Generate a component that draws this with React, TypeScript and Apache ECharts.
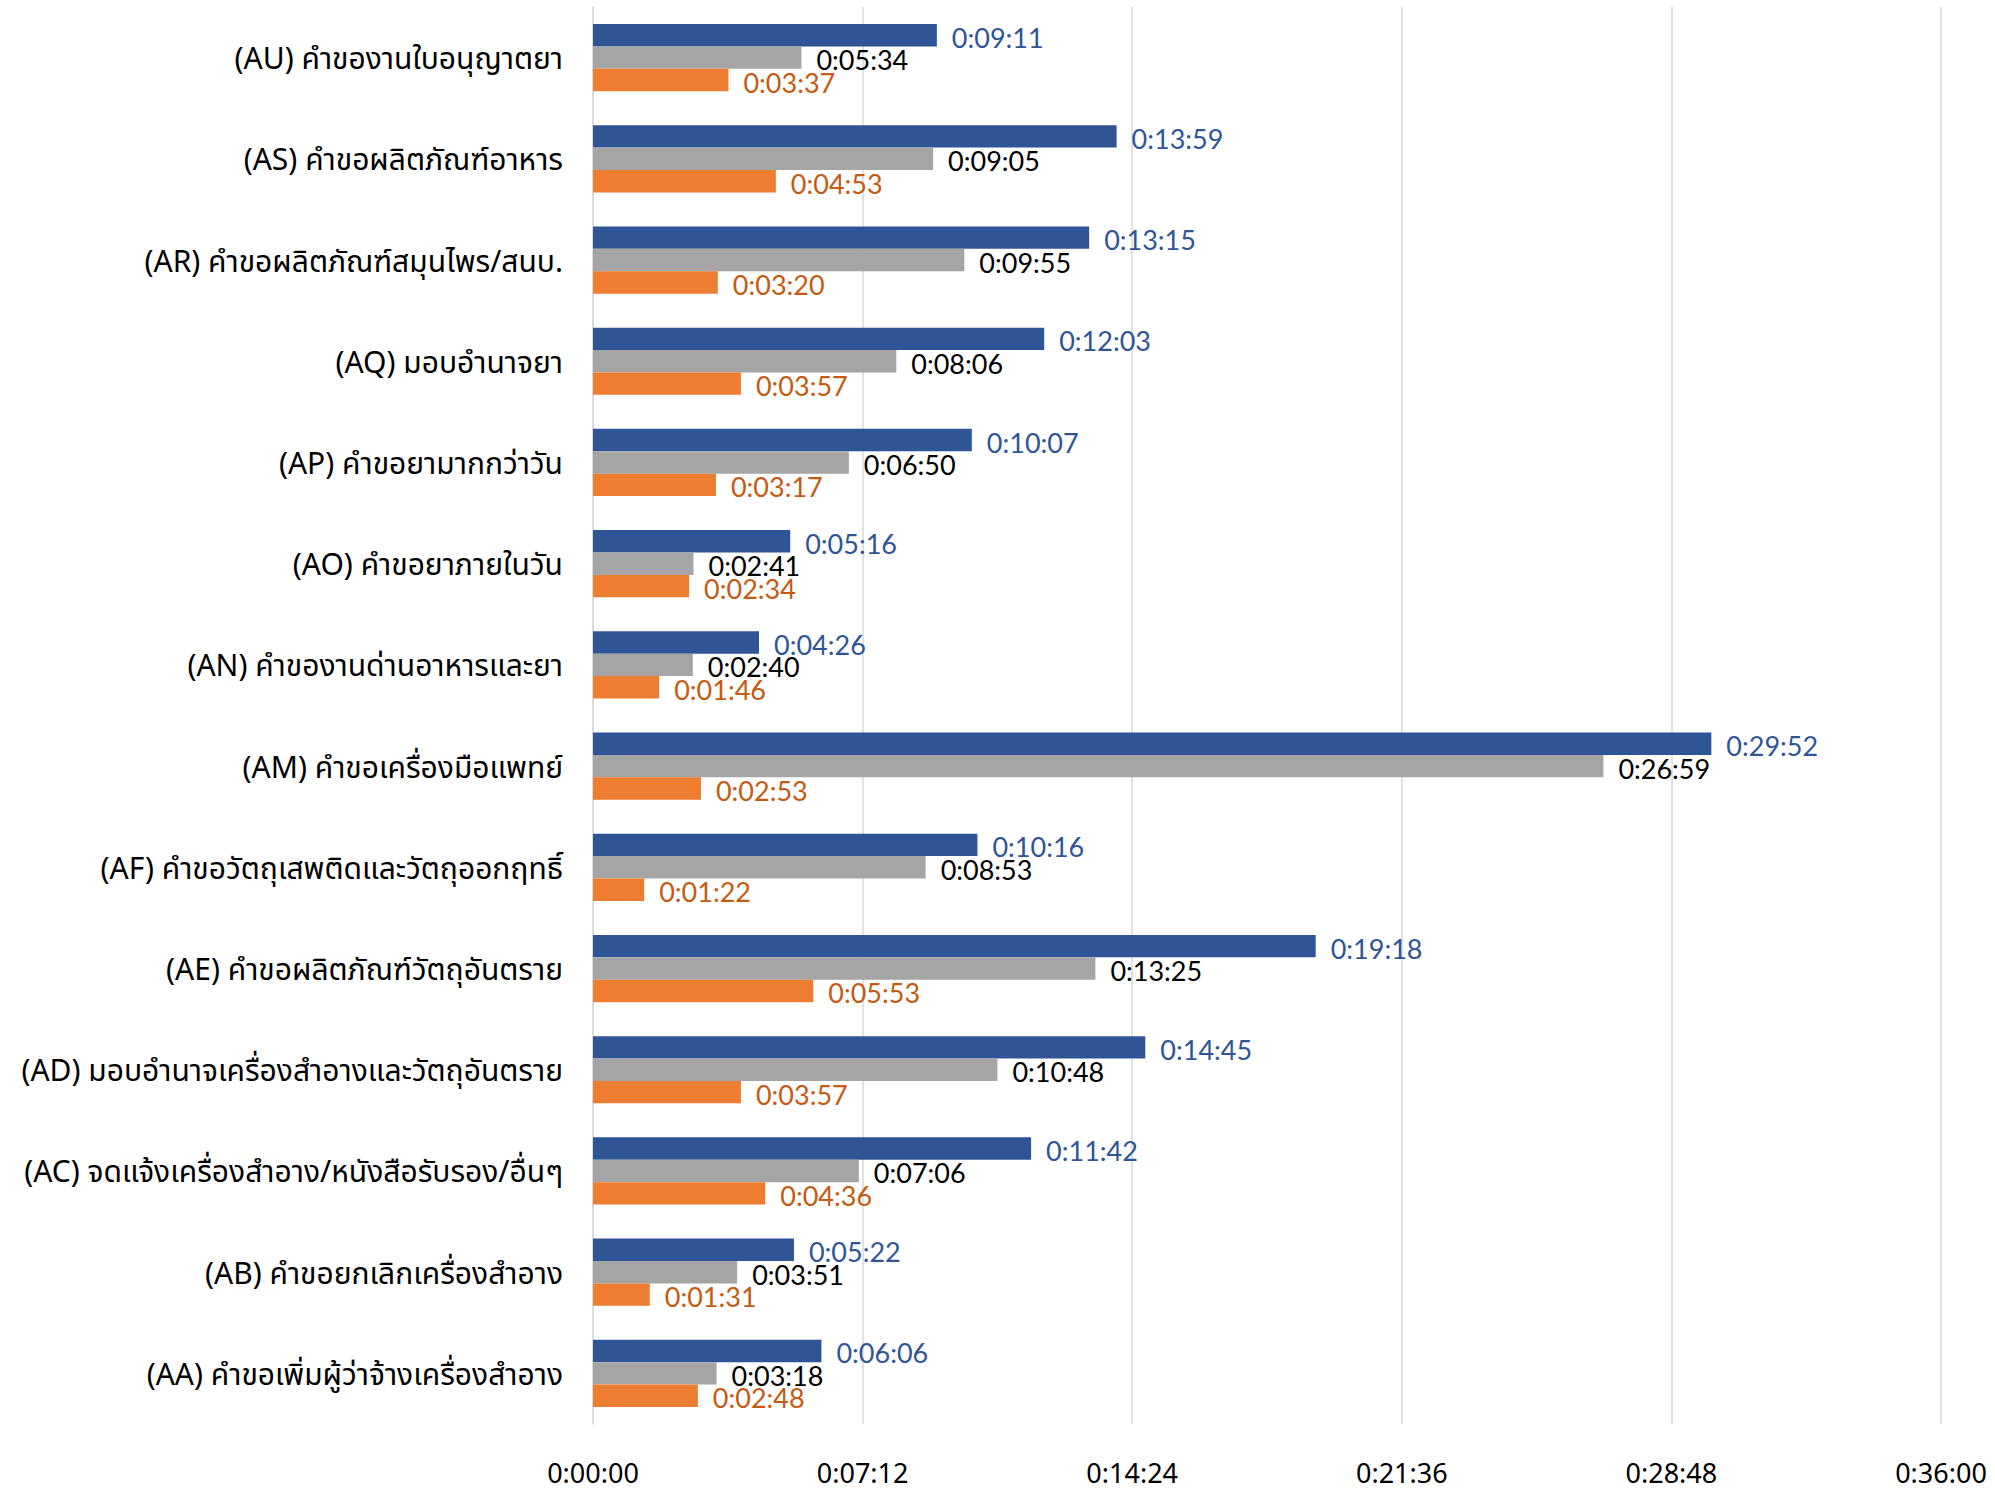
import React, { useEffect, useRef } from "react";
import * as echarts from "echarts";

const categories = [
  "(AU) คำของานใบอนุญาตยา",
  "(AS) คำขอผลิตภัณฑ์อาหาร",
  "(AR) คำขอผลิตภัณฑ์สมุนไพร/สนบ.",
  "(AQ) มอบอำนาจยา",
  "(AP) คำขอยามากกว่าวัน",
  "(AO) คำขอยาภายในวัน",
  "(AN) คำของานด่านอาหารและยา",
  "(AM) คำขอเครื่องมือแพทย์",
  "(AF) คำขอวัตถุเสพติดและวัตถุออกฤทธิ์",
  "(AE) คำขอผลิตภัณฑ์วัตถุอันตราย",
  "(AD) มอบอำนาจเครื่องสำอางและวัตถุอันตราย",
  "(AC) จดแจ้งเครื่องสำอาง/หนังสือรับรอง/อื่นๆ",
  "(AB) คำขอยกเลิกเครื่องสำอาง",
  "(AA) คำขอเพิ่มผู้ว่าจ้างเครื่องสำอาง",
];

const maxTimes = [
  "0:09:11", "0:13:59", "0:13:15", "0:12:03", "0:10:07", "0:05:16", "0:04:26",
  "0:29:52", "0:10:16", "0:19:18", "0:14:45", "0:11:42", "0:05:22", "0:06:06",
];
const avgTimes = [
  "0:05:34", "0:09:05", "0:09:55", "0:08:06", "0:06:50", "0:02:41", "0:02:40",
  "0:26:59", "0:08:53", "0:13:25", "0:10:48", "0:07:06", "0:03:51", "0:03:18",
];
const minTimes = [
  "0:03:37", "0:04:53", "0:03:20", "0:03:57", "0:03:17", "0:02:34", "0:01:46",
  "0:02:53", "0:01:22", "0:05:53", "0:03:57", "0:04:36", "0:01:31", "0:02:48",
];

const axisMin = 0;
const axisMax = 2160;
const axisStep = 432;

const toSec = (s: string) => {
  const [h, m, sec] = s.split(":").map(Number);
  return h * 3600 + m * 60 + sec;
};
const fmt = (v: number) => {
  const h = Math.floor(v / 3600);
  const m = Math.floor((v % 3600) / 60);
  const s = Math.round(v % 60);
  return `${h}:${String(m).padStart(2, "0")}:${String(s).padStart(2, "0")}`;
};

const FONT = "'Noto Sans', 'Noto Sans Thai', Tahoma, sans-serif";
const VFONT = "Lato, 'Noto Sans', sans-serif";

export default function App() {
  const ref = useRef<HTMLDivElement>(null);
  useEffect(() => {
    if (!ref.current) return;
    const chart = echarts.init(ref.current, undefined, { renderer: "svg" });
    const mk = (name: string, data: string[], color: string, labelColor: string) => ({
      name,
      type: "bar",
      data: data.map(toSec),
      barGap: "0%",
      barCategoryGap: "33.6%",
      itemStyle: { color },
      label: {
        show: true,
        position: "right",
        distance: 15,
        offset: [0, 2],
        color: labelColor,
        fontFamily: VFONT,
        fontSize: 27,
        formatter: (p: any) => fmt(p.value),
      },
    });
    chart.setOption({
      animation: false,
      backgroundColor: "#ffffff",
      grid: { left: 593, right: 54, top: 7, bottom: 66, containLabel: false },
      xAxis: {
        type: "value",
        min: axisMin,
        max: axisMax,
        interval: axisStep,
        axisLine: { show: false },
        axisTick: { show: false },
        splitLine: { show: true, lineStyle: { color: "#D9D9D9", width: 1.5 } },
        axisLabel: {
          formatter: (v: number) => fmt(v),
          fontFamily: FONT,
          fontSize: 27,
          color: "#000",
          margin: 35,
        },
      },
      yAxis: {
        type: "category",
        data: categories,
        inverse: true,
        axisLine: { show: true, lineStyle: { color: "#D9D9D9", width: 1.5 } },
        axisTick: { show: false },
        axisLabel: {
          fontFamily: FONT,
          fontSize: 30,
          color: "#000",
          margin: 30,
        },
      },
      series: [
        mk("สูงสุด", maxTimes, "#2F5597", "#2F5597"),
        mk("เฉลี่ย", avgTimes, "#A5A5A5", "#000000"),
        mk("ต่ำสุด", minTimes, "#ED7D31", "#C55A11"),
      ],
    });
    return () => chart.dispose();
  }, []);
  return (
    <div
      ref={ref}
      style={{ position: "absolute", left: 0, top: 0, width: 1995, height: 1490 }}
    />
  );
}
